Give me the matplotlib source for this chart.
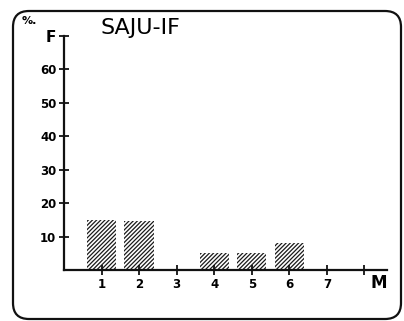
import matplotlib
matplotlib.use("Agg")
import matplotlib.pyplot as plt
from matplotlib.patches import FancyBboxPatch

plt.rcParams['font.family'] = ['DejaVu Sans']
plt.rcParams['hatch.linewidth'] = 0.9

title = "SAJU-IF"
months = [1, 2, 3, 4, 5, 6]
freq = [15.0, 14.8, 0.0, 5.2, 5.2, 8.2]
xticks = [1, 2, 3, 4, 5, 6, 7, 8]
xtick_labels = ["1", "2", "3", "4", "5", "6", "7", ""]
yticks = [10, 20, 30, 40, 50, 60, 70]
ytick_labels = ["10", "20", "30", "40", "50", "60", "F"]

W, H = 404, 321
fig = plt.figure(figsize=(W / 100, H / 100), dpi=100)
ax = fig.add_axes([64 / W, (H - 270) / H, (387 - 64) / W, (270 - 36) / H])

ax.bar(months, freq, width=0.78, color='white', edgecolor='#1a1a1a',
       linewidth=0, hatch='////////')

ax.set_xlim(0, 8.6)
ax.set_ylim(0, 70)
for s in ['top', 'right']:
    ax.spines[s].set_visible(False)
for s in ['left', 'bottom']:
    ax.spines[s].set_linewidth(1.6)
    ax.spines[s].set_color('#111111')

ax.set_xticks(xticks)
ax.set_xticklabels(xtick_labels, fontsize=8.5, fontweight='bold')
ax.set_yticks(yticks)
ax.set_yticklabels(ytick_labels, fontsize=8.5, fontweight='bold')
ax.tick_params(axis='both', direction='inout', length=7, width=1.3, color='#111111')
ax.tick_params(axis='x', pad=2)
ax.tick_params(axis='y', pad=2)
ax.get_yticklabels()[-1].set_fontsize(11)

ax.text(379, H - 283, "M", transform=None, fontsize=12, fontweight='bold',
        ha='center', va='center')
fig.text(100 / W, 1 - 28 / H, title, fontsize=16, ha='left', va='center')
fig.text(22 / W, 1 - 21 / H, "%.", fontsize=8, fontweight='bold', ha='left', va='center')

border = FancyBboxPatch((0.13, 0.02), 3.88, 3.08,
                        boxstyle="round,pad=0,rounding_size=0.16",
                        transform=fig.dpi_scale_trans, fill=False,
                        linewidth=1.6, edgecolor='#111111')
fig.patches.append(border)

fig.savefig("out.png", dpi=100)
